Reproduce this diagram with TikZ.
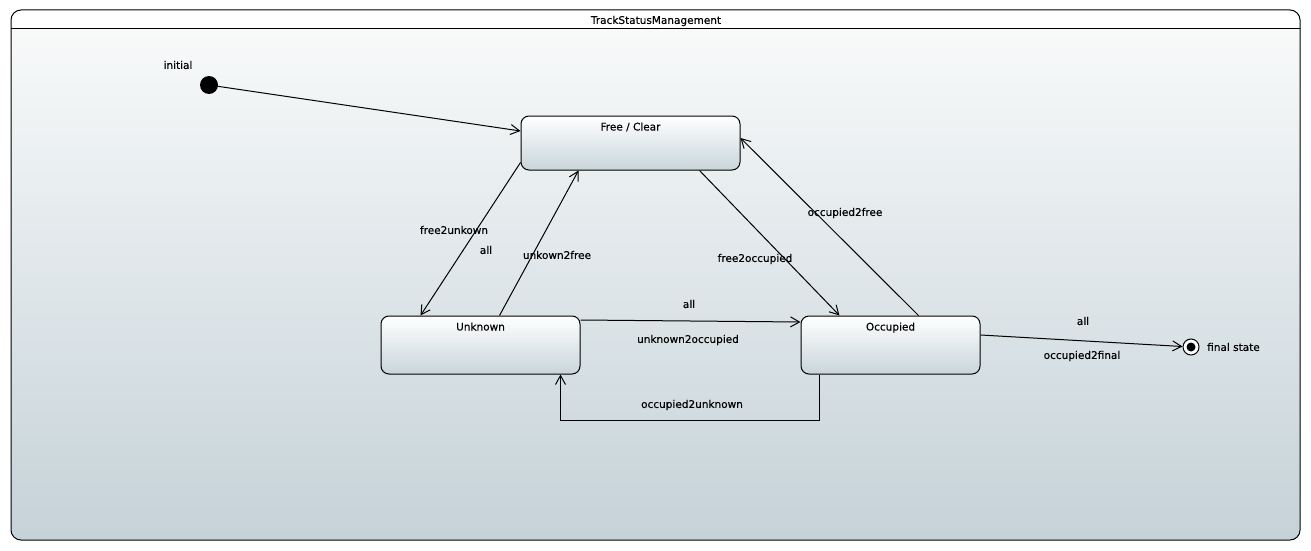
\documentclass[tikz,border=0pt]{standalone}
\usepackage{fontspec}
\setmainfont{DejaVu Sans}
\newfontfamily\lblfont{DejaVu Sans}[FakeBold=0.35]
\usetikzlibrary{arrows.meta}
\definecolor{bgtop}{HTML}{FAFBFB}
\definecolor{bgbot}{HTML}{C5D2D8}
\definecolor{boxbot}{HTML}{C9D5DA}
\tikzset{
  statebox/.style={draw,line width=1pt,rounded corners=8pt,top color=white,bottom color=boxbot,inner sep=0pt},
  trans/.style={draw,line width=1pt,-{Straight Barb[length=9pt,width=10pt]}},
  lbl/.style={font=\lblfont\fontsize{10.5}{12}\selectfont,inner sep=1pt},
}
\begin{document}
\begin{tikzpicture}[x=1pt,y=-1pt]
\useasboundingbox (0,0) rectangle (1311,551);
% frame
\begin{scope}
\clip (11,29) rectangle (1300,541);
\shade[top color=bgtop,bottom color=bgbot,rounded corners=10pt] (11,10) rectangle (1300,540);
\end{scope}
\draw[line width=1pt,rounded corners=10pt] (11,10) rectangle (1300,540);
\draw[line width=1pt] (11,29) -- (1300,29);
\node[lbl] (title) at (656,21) {TrackStatusManagement};

% states
\node[circle,fill=black,minimum size=18pt,inner sep=0pt] (init) at (209,85) {};
\node[lbl] (initlbl) at (178,65) {initial};

\node[statebox,minimum width=219pt,minimum height=54pt] (free) at (630.5,143) {};
\node[lbl,anchor=base] (freename) at ([yshift=-15pt]free.north) {Free / Clear};

\node[statebox,minimum width=199pt,minimum height=58pt] (unknown) at (480.5,345) {};
\node[lbl,anchor=base] (unknownname) at ([yshift=-15pt]unknown.north) {Unknown};

\node[statebox,minimum width=179pt,minimum height=58pt] (occ) at (890.5,345) {};
\node[lbl,anchor=base] (occname) at ([yshift=-15pt]occ.north) {Occupied};

\node[circle,draw,line width=1pt,fill=white,minimum size=16pt,inner sep=0pt] (final) at (1191,347) {};
\node[circle,fill=black,minimum size=9pt,inner sep=0pt] (finaldot) at (final) {};
\node[lbl,anchor=west] (finallbl) at (1206,347) {final state};

% transitions
\draw[trans] (init) -- ([yshift=12pt]free.west);
\draw[trans] ([yshift=8pt]free.south west) -- ([xshift=40pt]unknown.north west);
\draw[trans] ([xshift=119pt]unknown.north west) -- ([xshift=58pt]free.south west);
\draw[trans] ([xshift=179pt]free.south west) -- ([xshift=39pt]occ.north west);
\draw[trans] ([xshift=118pt]occ.north west) -- ([yshift=5pt]free.east);
\draw[trans] ([yshift=25pt]unknown.east) -- ([yshift=23pt]occ.west);
\draw[trans] ([xshift=19pt]occ.south west) -- ++(0,46) -| ([xshift=180pt]unknown.south west);
\draw[trans] ([yshift=10pt]occ.east) -- (final);

% labels
\node[lbl] (f2u) at (454,230) {free2unkown};
\node[lbl] (f2uall) at (486,250) {all};
\node[lbl] (u2f) at (557,255) {unkown2free};
\node[lbl] (f2o) at (755,259) {free2occupied};
\node[lbl] (o2f) at (845,213) {occupied2free};
\node[lbl] (u2oall) at (689,304) {all};
\node[lbl] (u2o) at (688,340) {unknown2occupied};
\node[lbl] (o2u) at (692,405) {occupied2unknown};
\node[lbl] (o2fiall) at (1083,321) {all};
\node[lbl] (o2fi) at (1082,356) {occupied2final};
\end{tikzpicture}
\end{document}
